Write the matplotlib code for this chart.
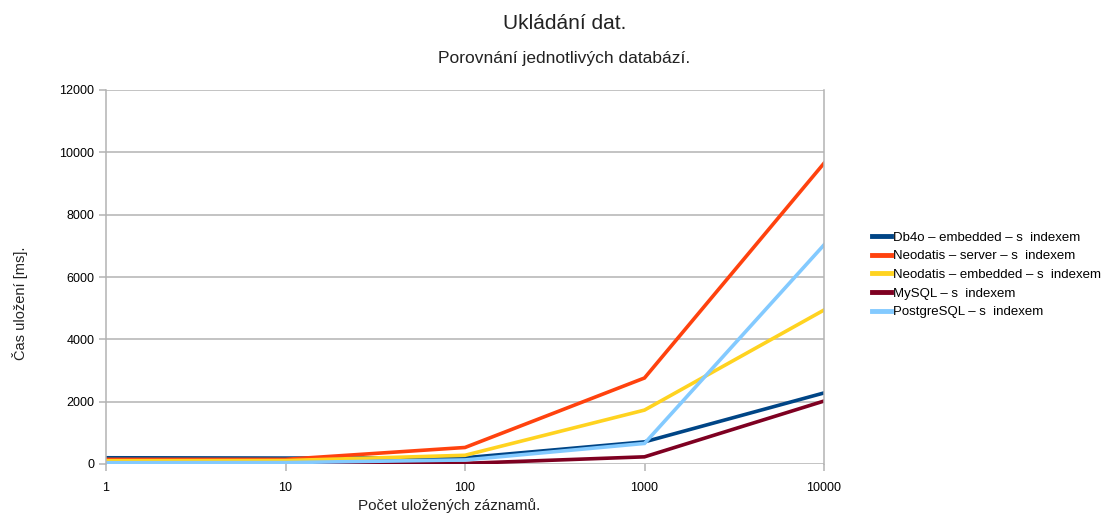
import matplotlib
matplotlib.use("Agg")
import matplotlib.pyplot as plt

plt.rcParams['font.family'] = ['Liberation Sans', 'DejaVu Sans']

x_vals = [1, 10, 100, 1000, 10000]
series_names = [
    "Db4o – embedded – s  indexem",
    "Neodatis – server – s  indexem",
    "Neodatis – embedded – s  indexem",
    "MySQL – s  indexem",
    "PostgreSQL – s  indexem",
]
db4o_embedded = [200, 190, 200, 710, 2280]
neodatis_server = [150, 150, 530, 2760, 9650]
neodatis_embedded = [105, 110, 280, 1730, 4940]
mysql = [0, 0, 20, 230, 2020]
postgresql = [40, 45, 130, 660, 7030]
colors = ["#004586", "#ff420e", "#ffd320", "#7e0021", "#83caff"]
x_ticklabels = ["1", "10", "100", "1000", "10000"]
y_ticks = [0, 2000, 4000, 6000, 8000, 10000, 12000]

fig = plt.figure(figsize=(11.09, 5.22), dpi=100)
ax = fig.add_axes([106/1109, 58/522, 718/1109, 374/522])

all_series = [db4o_embedded, neodatis_server, neodatis_embedded, mysql, postgresql]
for name, vals, c in zip(series_names, all_series, colors):
    ax.plot(x_vals, vals, color=c, lw=2.6, label=name, solid_joinstyle='miter')

ax.set_xscale('log')
ax.set_xlim(1, 10000)
ax.set_ylim(0, 12000)
ax.set_xticks(x_vals)
ax.set_xticklabels(x_ticklabels)
ax.xaxis.set_minor_locator(matplotlib.ticker.NullLocator())
ax.set_yticks(y_ticks)
ax.set_yticklabels([str(v) for v in y_ticks])
ax.grid(axis='y', color='#b3b3b3', lw=1.1)
ax.set_axisbelow(True)
for s in ['left', 'right']:
    ax.spines[s].set_color('#b3b3b3')
    ax.spines[s].set_linewidth(1.1)
ax.spines['top'].set_visible(False)
ax.spines['bottom'].set_visible(False)
ax.tick_params(axis='both', colors='#b3b3b3', length=5, width=1.1,
               labelcolor='#000000', labelsize=9)
ax.tick_params(axis='x', pad=8)

fig.text(565/1109, 1 - 24/522, "Ukládání dat.", ha='center', va='center',
         fontsize=15, color='#222222')
fig.text(564/1109, 1 - 59/522, "Porovnání jednotlivých databází.", ha='center', va='center',
         fontsize=12.5, color='#222222')
fig.text(449/1109, 1 - 506/522, "Počet uložených záznamů.", ha='center', va='center',
         fontsize=11, color='#222222')
fig.text(20/1109, 1 - 303/522, "Čas uložení [ms].", ha='center', va='center',
         fontsize=10.5, rotation=90, color='#222222')

leg = fig.legend(loc='upper left', bbox_to_anchor=(867/1109, 1 - 226/522),
                 frameon=False, fontsize=9.5, handlelength=1.45, handletextpad=0.1,
                 labelspacing=0.49, borderaxespad=0)
for l in leg.get_lines():
    l.set_linewidth(3.5)

fig.savefig("out.png", dpi=100)
